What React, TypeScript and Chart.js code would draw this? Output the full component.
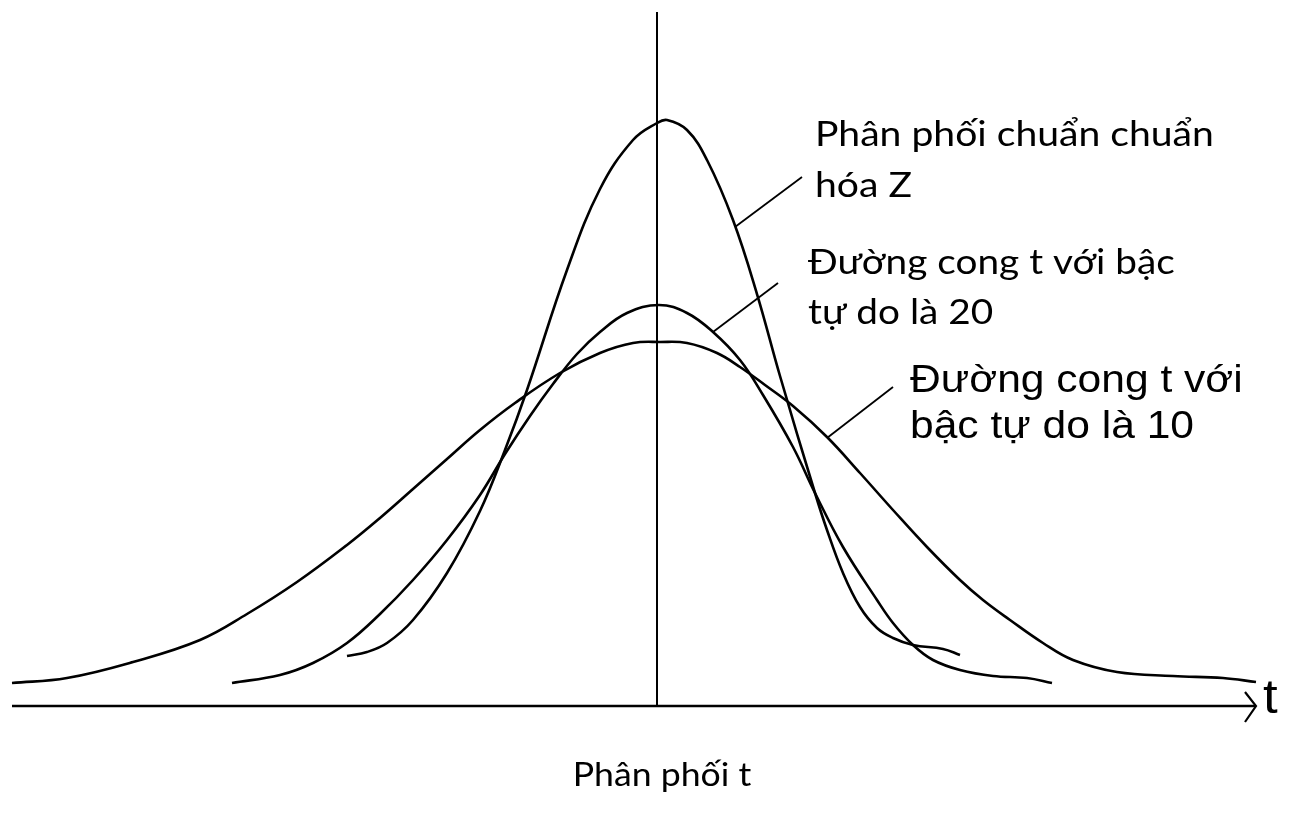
import React, { useEffect, useRef } from "react";
import { Chart, registerables } from "chart.js";

Chart.register(...registerables);

// Horizontal: t value; vertical: curve height (schematic units)
const zCurveX = [-3.10, -2.90, -2.70, -2.44, -2.10, -1.77, -1.52, -1.30, -0.90, -0.57, -0.24, 0.00, 0.10, 0.30, 0.50, 0.76, 1.00, 1.23, 1.58, 1.70, 1.86, 2.03, 2.20, 2.36, 2.56, 2.86, 3.03];
const zCurveY = [0.50, 0.54, 0.63, 0.86, 1.33, 1.95, 2.56, 3.16, 4.36, 5.17, 5.66, 5.83, 5.86, 5.76, 5.46, 4.86, 4.12, 3.30, 2.13, 1.76, 1.33, 0.99, 0.78, 0.68, 0.61, 0.57, 0.51];

const t20CurveX = [-4.25, -3.77, -3.44, -3.10, -2.77, -2.44, -2.10, -1.77, -1.52, -1.27, -1.04, -0.80, -0.57, -0.30, 0.02, 0.30, 0.56, 0.83, 1.06, 1.36, 1.58, 1.86, 2.20, 2.36, 2.56, 2.76, 3.03, 3.36, 3.70, 3.95];
const t20CurveY = [0.23, 0.31, 0.43, 0.63, 0.92, 1.26, 1.66, 2.11, 2.52, 2.90, 3.22, 3.52, 3.74, 3.93, 4.01, 3.93, 3.74, 3.46, 3.11, 2.59, 2.13, 1.59, 1.06, 0.83, 0.61, 0.46, 0.36, 0.30, 0.28, 0.23];

const t10CurveX = [-6.45, -5.90, -5.24, -4.57, -4.10, -3.60, -3.10, -2.77, -2.44, -2.10, -1.77, -1.42, -0.97, -0.57, -0.24, 0.03, 0.30, 0.60, 0.83, 1.08, 1.36, 1.70, 2.03, 2.36, 2.70, 3.03, 3.26, 3.53, 3.86, 4.16, 4.60, 5.16, 5.66, 5.99];
const t10CurveY = [0.23, 0.28, 0.44, 0.66, 0.92, 1.24, 1.61, 1.88, 2.17, 2.47, 2.76, 3.03, 3.33, 3.53, 3.63, 3.64, 3.63, 3.53, 3.39, 3.21, 3.00, 2.69, 2.33, 1.96, 1.59, 1.26, 1.06, 0.86, 0.63, 0.46, 0.34, 0.30, 0.28, 0.24];

// Axes
const tAxisX = [-6.45, 5.99];
const tAxisY = [0, 0];
const arrowX = [5.88, 5.99, 5.88];
const arrowY = [0.14, 0, -0.16];
const vAxisX = [0, 0];
const vAxisY = [0, 6.94];

// Leader lines from curves to labels
const zLeaderX = [0.78, 1.45];
const zLeaderY = [4.79, 5.29];
const t20LeaderX = [0.56, 1.21];
const t20LeaderY = [3.74, 4.23];
const t10LeaderX = [1.70, 2.36];
const t10LeaderY = [2.68, 3.19];

// Labels
const zLabel = ["Phân phối chuẩn chuẩn", "hóa Z"];
const t20Label = ["Đường cong t với bậc", "tự do là 20"];
const t10Label = ["Đường cong t với", "bậc tự do là 10"];
const axisLabel = "t";
const titleLabel = "Phân phối t";

const X_MIN = -6.57;
const X_MAX = 6.44;
const Y_MIN = -1.07;
const Y_MAX = 7.06;

const zip = (xs: number[], ys: number[]) => xs.map((x, i) => ({ x, y: ys[i] }));

const CALIBRI_LIKE = "'Lato', 'Open Sans', sans-serif";
const ARIAL_LIKE = "'Liberation Sans', Arial, sans-serif";

const labelLayout = [
  { lines: zLabel, x: 1.58, y: [5.60, 5.09], font: `34px ${CALIBRI_LIKE}`, align: "left", sx: 1.15 },
  { lines: t20Label, x: 1.51, y: [4.32, 3.82], font: `34px ${CALIBRI_LIKE}`, align: "left", sx: 1.14 },
  { lines: t10Label, x: 2.53, y: [3.14, 2.68], font: `38px ${ARIAL_LIKE}`, align: "left", sx: 1.12 },
  { lines: [axisLabel], x: 6.06, y: [-0.07], font: `48px ${ARIAL_LIKE}`, align: "left", sx: 1.1 },
  { lines: [titleLabel], x: 0.05, y: [-0.80], font: `33px ${CALIBRI_LIKE}`, align: "center", sx: 1.08 },
];

const textPlugin = {
  id: "textLabels",
  afterDatasetsDraw(chart: any) {
    const { ctx, scales } = chart;
    ctx.save();
    ctx.fillStyle = "#000";
    ctx.textBaseline = "alphabetic";
    labelLayout.forEach((l) => {
      ctx.font = l.font;
      ctx.textAlign = l.align;
      l.lines.forEach((line: string, i: number) => {
        ctx.save();
        ctx.translate(scales.x.getPixelForValue(l.x), scales.y.getPixelForValue(l.y[i]));
        ctx.scale(l.sx, 1);
        ctx.fillText(line, 0, 0);
        ctx.restore();
      });
    });
    ctx.restore();
  },
};

export default function App() {
  const ref = useRef<HTMLCanvasElement | null>(null);
  useEffect(() => {
    document.body.style.margin = "0";
    document.body.style.overflow = "hidden";
    const curve = (xs: number[], ys: number[]) => ({
      data: zip(xs, ys),
      borderColor: "#000",
      borderWidth: 2.6,
      pointRadius: 0,
      tension: 0.4,
      fill: false,
    });
    const straight = (xs: number[], ys: number[], w: number) => ({
      data: zip(xs, ys),
      borderColor: "#000",
      borderWidth: w,
      pointRadius: 0,
      tension: 0,
      fill: false,
    });
    const chart = new Chart(ref.current as HTMLCanvasElement, {
      type: "line",
      data: {
        datasets: [
          curve(zCurveX, zCurveY),
          curve(t20CurveX, t20CurveY),
          curve(t10CurveX, t10CurveY),
          straight(tAxisX, tAxisY, 2.6),
          straight(arrowX, arrowY, 2.2),
          straight(vAxisX, vAxisY, 2),
          straight(zLeaderX, zLeaderY, 1.8),
          straight(t20LeaderX, t20LeaderY, 1.8),
          straight(t10LeaderX, t10LeaderY, 1.8),
        ] as any,
      },
      options: {
        animation: false,
        responsive: false,
        maintainAspectRatio: false,
        devicePixelRatio: 1,
        layout: { padding: 0 },
        parsing: false as any,
        scales: {
          x: { type: "linear", display: false, min: X_MIN, max: X_MAX },
          y: { type: "linear", display: false, min: Y_MIN, max: Y_MAX },
        },
        plugins: { legend: { display: false }, tooltip: { enabled: false } },
        events: [],
      },
      plugins: [textPlugin],
    });
    return () => chart.destroy();
  }, []);
  return (
    <div style={{ width: 1301, height: 813, background: "#fff" }}>
      <canvas ref={ref} width={1301} height={813} style={{ display: "block" }} />
    </div>
  );
}
